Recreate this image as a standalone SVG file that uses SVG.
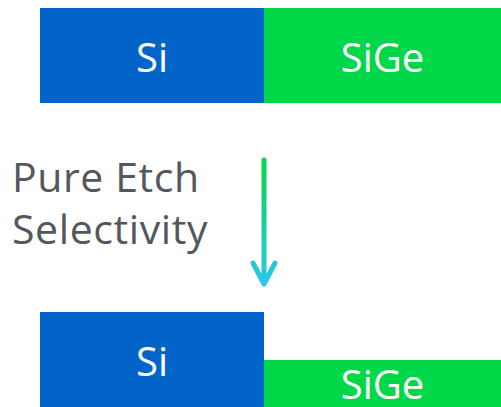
<svg xmlns="http://www.w3.org/2000/svg" width="501" height="407" viewBox="0 0 501 407">
<style>
.lbl{font-family:"Open Sans","Noto Sans",sans-serif;font-size:40px;fill:#ffffff;text-anchor:middle}
.cap{font-family:"Open Sans","Noto Sans",sans-serif;font-size:41px;letter-spacing:0.6px;fill:#54575b}
.si{fill:#0264c8}
.sige{fill:#00d84a}
</style>
<defs>
<linearGradient id="g" x1="0" y1="160" x2="0" y2="287" gradientUnits="userSpaceOnUse">
<stop offset="0" stop-color="#00d84a"/>
<stop offset="1" stop-color="#2ec6ef"/>
</linearGradient>
</defs>
<rect width="501" height="407" fill="#ffffff"/>
<g id="top-si"><rect class="si" x="40" y="8" width="224" height="95"/><text class="lbl" x="152" y="72">Si</text></g>
<g id="top-sige"><rect class="sige" x="264" y="8" width="237" height="95"/><text class="lbl" x="382.5" y="72">SiGe</text></g>
<g id="label"><text class="cap" x="12" y="192">Pure Etch</text><text class="cap" x="12" y="244">Selectivity</text></g>
<g id="connectors">
<path d="M264 160V284M253 263L264 284L275 263" fill="none" stroke="url(#g)" stroke-width="5" stroke-linecap="round" stroke-linejoin="round"/>
</g>
<g id="bot-si"><rect class="si" x="40" y="312" width="224" height="95"/><text class="lbl" x="152" y="376">Si</text></g>
<g id="bot-sige"><rect class="sige" x="264" y="360" width="237" height="47"/><text class="lbl" x="382.5" y="399">SiGe</text></g>
</svg>
